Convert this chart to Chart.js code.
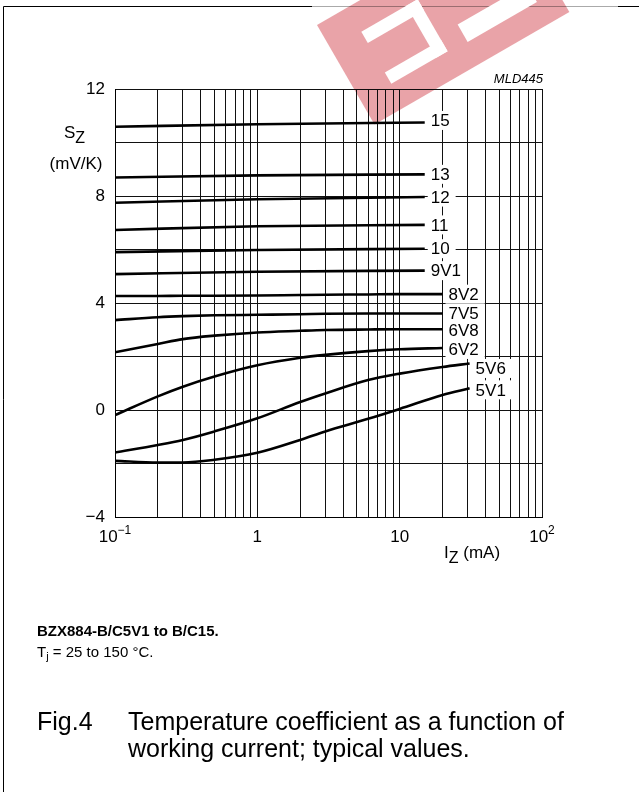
<!DOCTYPE html>
<html>
<head>
<meta charset="utf-8">
<script src="https://cdn.jsdelivr.net/npm/chart.js@4.4.1/dist/chart.umd.min.js"></script>
<style>
  html, body { margin: 0; padding: 0; background: #fff; }
</style>
</head>
<body>
<canvas id="grafico" width="639" height="792"></canvas>
<script>
// Currents (mA) where each group of curves was read
const izTop = [0.1, 1, 15];
const izMid = [0.1, 0.2, 0.3, 0.5, 1, 2, 3, 6, 10, 20];
const izLow = [0.1, 0.2, 0.3, 0.5, 1, 2, 3, 6, 10, 20, 31];

// Temperature coefficient Sz (mV/K)
const sz15  = [10.59, 10.68, 10.75];
const sz13  = [8.69, 8.77, 8.81];
const sz12  = [7.75, 7.88, 7.96];
const sz11  = [6.73, 6.87, 6.92];
const sz10  = [5.90, 5.98, 6.03];
const sz9V1 = [5.08, 5.17, 5.21];
const sz8V2 = [4.26, 4.26, 4.27, 4.27, 4.28, 4.30, 4.31, 4.32, 4.33, 4.33];
const sz7V5 = [3.36, 3.47, 3.51, 3.54, 3.56, 3.58, 3.60, 3.61, 3.61, 3.61];
const sz6V8 = [2.16, 2.47, 2.65, 2.78, 2.90, 2.96, 2.99, 3.01, 3.02, 3.02];
const sz6V2 = [-0.19, 0.51, 0.87, 1.25, 1.67, 1.95, 2.06, 2.20, 2.27, 2.32];
const sz5V6 = [-1.59, -1.31, -1.12, -0.80, -0.31, 0.30, 0.62, 1.12, 1.36, 1.61, 1.74];
const sz5V1 = [-1.90, -1.96, -1.96, -1.86, -1.60, -1.12, -0.80, -0.33, 0.04, 0.56, 0.81];

const curveNames = ["15", "13", "12", "11", "10", "9V1", "8V2", "7V5", "6V8", "6V2", "5V6", "5V1"];
const curveIz = [izTop, izTop, izTop, izTop, izTop, izTop, izMid, izMid, izMid, izMid, izLow, izLow];
const curveSz = [sz15, sz13, sz12, sz11, sz10, sz9V1, sz8V2, sz7V5, sz6V8, sz6V2, sz5V6, sz5V1];
// small vertical nudge of each end label (px)
const labelShift = [-2, 0, 0, 0, 0, 0, 0, 0, 1.5, 1.5, 5, 1.5];

// axis ticks
const xGrid = [0.1, 0.2, 0.3, 0.4, 0.5, 0.6, 0.7, 0.8, 0.9,
               1, 2, 3, 4, 5, 6, 7, 8, 9,
               10, 20, 30, 40, 50, 60, 70, 80, 90, 100];
const xDecades = [0.1, 1, 10, 100];
const xDecadeText = [["10", "\u22121"], ["1", ""], ["10", ""], ["10", "2"]];
const yLabelled = [12, 8, 4, 0, -4];

const FONT = "'Liberation Sans', Arial, Helvetica, sans-serif";

const datasets = curveNames.map((name, i) => ({
  label: name,
  data: curveIz[i].map((iz, k) => ({ x: iz, y: curveSz[i][k] })),
  borderColor: "#000",
  borderWidth: 2.6,
  pointRadius: 0,
  fill: false,
  cubicInterpolationMode: "monotone"
}));

function txt(c, s, x, y, font, align) {
  c.font = font;
  c.textAlign = align || "left";
  c.fillText(s, x, y);
  return c.measureText(s).width;
}

const decor = {
  id: "decor",
  beforeDraw(chart) {
    const c = chart.ctx;
    c.save();
    c.fillStyle = "#fff";
    c.fillRect(0, 0, chart.width, chart.height);
    c.restore();
  },
  afterDatasetsDraw(chart) {
    // labels at the end of each curve, on a white patch
    const c = chart.ctx;
    c.save();
    c.font = "17px " + FONT;
    c.textBaseline = "middle";
    chart.data.datasets.forEach((ds, i) => {
      const pts = chart.getDatasetMeta(i).data;
      const last = pts[pts.length - 1];
      const x = last.x + 6, y = last.y + labelShift[i];
      const w = c.measureText(ds.label).width;
      c.fillStyle = "#fff";
      c.fillRect(x - 3, y - 9.5, w + 9, 19);
      c.fillStyle = "#000";
      c.fillText(ds.label, x, y + 1);
    });
    c.restore();
  },
  afterDraw(chart) {
    const c = chart.ctx;
    const xs = chart.scales.x;
    c.save();
    c.fillStyle = "#000";
    c.textBaseline = "alphabetic";

    // x tick labels with exponents
    xDecades.forEach((v, i) => {
      const px = xs.getPixelForValue(v);
      const [base, sup] = xDecadeText[i];
      c.font = "17px " + FONT;
      const wb = c.measureText(base).width;
      c.font = "12px " + FONT;
      const ws = sup ? c.measureText(sup).width : 0;
      const x0 = px - (wb + ws) / 2;
      txt(c, base, x0, 542, "17px " + FONT);
      if (sup) txt(c, sup, x0 + wb, 534, "12px " + FONT);
    });

    // axis titles
    let w = txt(c, "S", 64, 138, "17px " + FONT);
    txt(c, "Z", 64 + w, 143, "16px " + FONT);
    txt(c, "(mV/K)", 76, 169, "17px " + FONT, "center");
    w = txt(c, "I", 444, 558, "17px " + FONT);
    const wz = txt(c, "Z", 444 + w, 563, "16px " + FONT);
    txt(c, " (mA)", 444 + w + wz, 558, "17px " + FONT);

    txt(c, "MLD445", 543, 83, "italic 13px " + FONT, "right");

    // captions
    txt(c, "BZX884-B/C5V1 to B/C15.", 37, 636, "bold 15px " + FONT);
    w = txt(c, "T", 37, 657, "15px " + FONT);
    const wj = txt(c, "j", 37 + w, 660, "11px " + FONT);
    txt(c, " = 25 to 150 \u00B0C.", 37 + w + wj, 657, "15px " + FONT);
    txt(c, "Fig.4", 37, 730, "25px " + FONT);
    txt(c, "Temperature coefficient as a function of", 128, 730, "25px " + FONT);
    txt(c, "working current; typical values.", 128, 757, "25px " + FONT);

    // page frame (top and left only)
    c.lineWidth = 1;
    c.strokeStyle = "#000";
    c.beginPath(); c.moveTo(3.5, 792); c.lineTo(3.5, 6.5); c.lineTo(312, 6.5); c.stroke();
    c.beginPath(); c.moveTo(618, 6.5); c.lineTo(639, 6.5); c.stroke();
    c.strokeStyle = "#aaa";
    c.beginPath(); c.moveTo(312, 6.5); c.lineTo(618, 6.5); c.stroke();

    // watermark
    c.translate(317, 25);
    c.rotate(-Math.PI / 6);
    c.globalCompositeOperation = "multiply";
    c.fillStyle = "rgb(233,163,168)";
    c.fillRect(0, 0, 225, 115);
    c.globalCompositeOperation = "source-over";
    c.fillStyle = "#fff";
    c.fillRect(35, 28, 65, 13);
    c.fillRect(87, 28, 13, 60);
    c.fillRect(35, 75, 65, 13);
    c.fillRect(122, 70, 80, 20);
    c.restore();
  }
};

new Chart(document.getElementById("grafico"), {
  type: "line",
  data: { datasets },
  plugins: [decor],
  options: {
    responsive: false,
    animation: false,
    events: [],
    layout: { padding: { left: 55, right: 97, top: 89, bottom: 235 } },
    plugins: { legend: { display: false }, tooltip: { enabled: false } },
    scales: {
      x: {
        type: "logarithmic",
        min: 0.1,
        max: 100,
        afterBuildTicks: s => { s.ticks = xGrid.map(v => ({ value: v })); },
        afterFit: s => { s.height = 40; },
        ticks: { display: false },
        grid: { color: "#111", lineWidth: 1, drawTicks: false },
        border: { color: "#000", width: 1 }
      },
      y: {
        type: "linear",
        min: -4,
        max: 12,
        afterFit: s => { s.width = 60; },
        ticks: {
          stepSize: 2,
          padding: 10,
          color: "#000",
          font: { family: FONT, size: 17 },
          callback: v => yLabelled.includes(v) ? (v < 0 ? "\u2212" + Math.abs(v) : String(v)) : ""
        },
        grid: { color: "#111", lineWidth: 1, drawTicks: false },
        border: { color: "#000", width: 1 }
      }
    }
  }
});
</script>
</body>
</html>
